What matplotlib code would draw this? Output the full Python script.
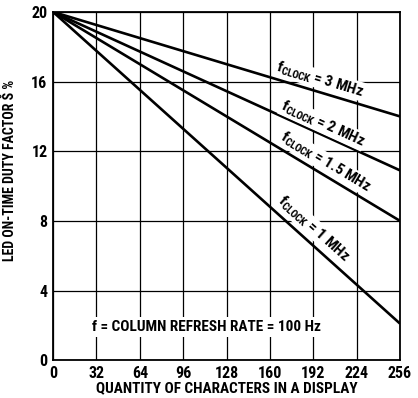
import numpy as np
import matplotlib.pyplot as plt

plt.rcParams['font.family'] = ['Roboto Condensed', 'DejaVu Sans']
plt.rcParams['font.weight'] = 'bold'
plt.rcParams['mathtext.fontset'] = 'custom'
plt.rcParams['mathtext.rm'] = 'Roboto Condensed:bold'
plt.rcParams['mathtext.it'] = 'Roboto Condensed:bold'
plt.rcParams['mathtext.bf'] = 'Roboto Condensed:bold'

# quantity of characters (end points of each straight line)
chars = [0, 256]
clock_labels = ['3 MHz', '2 MHz', '1.5 MHz', '1 MHz']
duty_3mhz = [20, 14.0]
duty_2mhz = [20, 10.9]
duty_15mhz = [20, 8.0]
duty_1mhz = [20, 2.1]
series = [duty_3mhz, duty_2mhz, duty_15mhz, duty_1mhz]

# label positions (x, offset above the line)
label_x = [197, 199, 201, 192]
label_off = [0.75, 0.65, 0.8, 1.0]

xticks = [0, 32, 64, 96, 128, 160, 192, 224, 256]
yticks = [0, 4, 8, 12, 16, 20]

fig = plt.figure(figsize=(4.18, 3.98), dpi=100)
ax = fig.add_axes([0.127, 0.095, 0.83, 0.875])

for y in series:
    ax.plot(chars, y, color='black', lw=1.9, solid_capstyle='butt', zorder=3)

for y, name, lx, off in zip(series, clock_labels, label_x, label_off):
    ly = np.interp(lx, chars, y) + off
    ang = np.degrees(np.arctan2(y[1] - y[0], chars[1] - chars[0]))
    ax.text(lx, ly, r'$\mathregular{f_{CLOCK}}$ = ' + name, rotation=ang,
            transform_rotates_text=True, rotation_mode='anchor',
            ha='center', va='center', fontsize=11, fontweight='bold', zorder=4,
            bbox=dict(facecolor='white', edgecolor='none', pad=0.5))

ax.text(113, 1.9, 'f = COLUMN REFRESH RATE = 100 Hz', ha='center', va='center',
        fontsize=11, fontweight='bold', zorder=4,
        bbox=dict(facecolor='white', edgecolor='none', pad=2))

ax.set_xlim(0, 256)
ax.set_ylim(0, 20)
ax.set_xticks(xticks)
ax.set_yticks(yticks)
ax.tick_params(length=0, labelsize=11.5, pad=4)
for lab in ax.get_xticklabels() + ax.get_yticklabels():
    lab.set_fontweight('bold')
ax.grid(color='black', lw=0.9)
ax.set_axisbelow(True)
for s in ax.spines.values():
    s.set_linewidth(1.3)

ax.set_xlabel('QUANTITY OF CHARACTERS IN A DISPLAY', fontsize=11, fontweight='bold', labelpad=0)
ax.set_ylabel('LED ON-TIME DUTY FACTOR Š %', fontsize=10, fontweight='bold')
ax.yaxis.set_label_coords(-0.105, 0.545)

fig.savefig('out.png', dpi=100)
